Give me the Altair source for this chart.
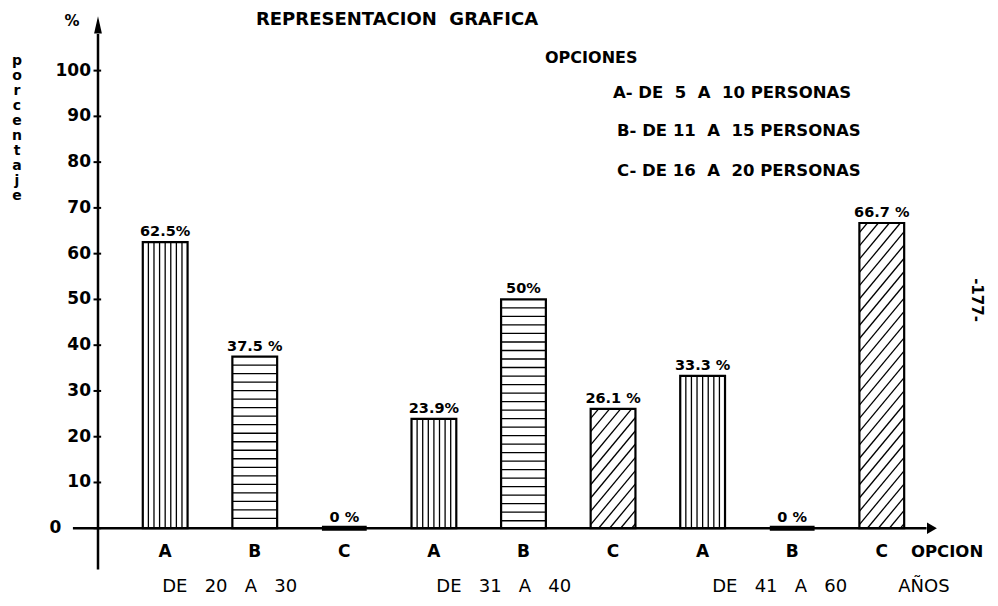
import altair as alt
import pandas as pd

NB = "\u00a0"

# ---------------- data ----------------
grupos = ["DE   20   A   30", "DE   31   A   40", "DE   41   A   60"]
opciones = ["A", "B", "C"]
porcentajes = [62.5, 37.5, 0.0, 23.9, 50.0, 26.1, 33.3, 0.0, 66.7]
etiquetas = ["62.5%", "37.5 %", "0 %", "23.9%", "50%", "26.1 %", "33.3 %", "0 %", "66.7 %"]
leyenda = ["A- DE  5  A  10 PERSONAS", "B- DE 11  A  15 PERSONAS", "C- DE 16  A  20 PERSONAS"]
y_ticks = list(range(0, 101, 10))
grupo_pos = [0.72, 3.78, 6.86]   # centre of each age-group caption (category units)
eje_y_letras = list("porcentaje")


def nb(s):
    return s.replace(" ", NB)


# ---------------- geometry constants ----------------
MEDIO = 0.25        # half bar width (category units)
PASO_H = 1.86       # spacing of horizontal hatch (percent units)
SUBIDA = 11.8       # rise of a diagonal hatch across a bar (percent units)
PASO_D = 2.9        # spacing of diagonal hatch (percent units)
FONT = "DejaVu Sans"
X0 = -0.75          # position of the vertical axis (category units)
X_START = -1.03     # left end of the horizontal axis line

xs = alt.Scale(domain=[X0, 8.65], nice=False, zero=False)
ys = alt.Scale(domain=[-10, 108], nice=False, zero=False)

rows = []
for i, (v, lab) in enumerate(zip(porcentajes, etiquetas)):
    rows.append(dict(i=i, opcion=opciones[i % 3], valor=v, etiqueta=lab,
                     izq=i - MEDIO, der=i + MEDIO, base=0.0))
bars = pd.DataFrame(rows)

# hatch segments derived from the bars
h = []
for r in rows:
    v, l, d = r["valor"], r["izq"], r["der"]
    w = d - l
    if v <= 0:
        continue
    if r["opcion"] == "A":
        for k in range(1, 8):
            xk = l + k * w / 8
            h.append((xk, xk, 0.0, v))
    elif r["opcion"] == "B":
        lvl = v - PASO_H
        while lvl > 0.4:
            h.append((l, d, lvl, lvl))
            lvl -= PASO_H
    else:
        y0 = -SUBIDA + 1.0
        while y0 < v:
            t0 = max(0.0, (0 - y0) / SUBIDA)
            t1 = min(1.0, (v - y0) / SUBIDA)
            if t1 > t0:
                h.append((l + t0 * w, l + t1 * w, y0 + SUBIDA * t0, y0 + SUBIDA * t1))
            y0 += PASO_D
hatch = pd.DataFrame(h, columns=["x", "x2", "y", "y2"])

cats = pd.DataFrame({"i": list(range(9)), "opcion": [opciones[i % 3] for i in range(9)],
                     "yy": [-5.2] * 9})
gr = pd.DataFrame({"x": grupo_pos, "t": [nb(g) for g in grupos], "yy": [-12.9] * 3})
anios = pd.DataFrame({"x": [8.47], "t": ["AÑOS"], "yy": [-12.9]})
ticks = pd.DataFrame({"v": y_ticks, "t": [str(v) for v in y_ticks],
                      "a": [X0 - 0.05] * len(y_ticks), "b": [X0 + 0.035] * len(y_ticks),
                      # the "0" label sits left of where the horizontal axis starts
                      "x": [X_START - 0.05 if v == 0 else X0 for v in y_ticks]})

axes_lines = pd.DataFrame({"x": [X0, X_START], "x2": [X0, 8.5],
                           "y": [-9.0, 0.0], "y2": [108.0, 0.0]})
arrow_up = pd.DataFrame({"x": [X0], "y": [110.0]})
arrow_right = pd.DataFrame({"x": [8.56], "y": [0.0]})
letras = pd.DataFrame({"t": eje_y_letras,
                       "py": [27 + 15 * k for k in range(len(eje_y_letras))]})


def X(f):
    return alt.X(f, scale=xs, axis=None)


def Y(f):
    return alt.Y(f, scale=ys, axis=None)


base_fill = alt.Chart(bars).mark_bar(fill="white").encode(
    x=X("izq:Q"), x2="der:Q", y=Y("valor:Q"), y2="base:Q")

hatch_layer = alt.Chart(hatch).mark_rule(color="black", strokeWidth=1.3).encode(
    x=X("x:Q"), x2="x2:Q", y=Y("y:Q"), y2="y2:Q")

outline = alt.Chart(bars).transform_filter("datum.valor > 0").mark_bar(
    fillOpacity=0, stroke="black", strokeWidth=2.2).encode(
    x=X("izq:Q"), x2="der:Q", y=Y("valor:Q"), y2="base:Q")

zero_bars = alt.Chart(bars).transform_filter("datum.valor == 0").mark_rule(
    color="black", strokeWidth=5).encode(
    x=X("izq:Q"), x2="der:Q", y=Y("valor:Q"))

value_labels = alt.Chart(bars).mark_text(
    font=FONT, fontSize=14.5, fontWeight="bold", baseline="bottom", dy=-3, color="black").encode(
    x=X("i:Q"), y=Y("valor:Q"), text="etiqueta:N")

axis_rules = alt.Chart(axes_lines).mark_rule(color="black", strokeWidth=2.5).encode(
    x=X("x:Q"), x2="x2:Q", y=Y("y:Q"), y2="y2:Q")

tick_marks = alt.Chart(ticks).mark_rule(color="black", strokeWidth=2).encode(
    x=X("a:Q"), x2="b:Q", y=Y("v:Q"))

tick_labels = alt.Chart(ticks).mark_text(
    font=FONT, fontSize=17, fontWeight="bold", align="right", baseline="middle",
    dx=-7, color="black").encode(x=X("x:Q"), y=Y("v:Q"), text="t:N")

up = alt.Chart(arrow_up).mark_point(shape="M0,-1L0.45,1L-0.45,1Z", size=300,
                                     filled=True, color="black", opacity=1,
                                     strokeWidth=0).encode(
    x=X("x:Q"), y=Y("y:Q"))
right = alt.Chart(arrow_right).mark_point(shape="triangle-right", size=130,
                                           filled=True, color="black", opacity=1).encode(
    x=X("x:Q"), y=Y("y:Q"))

cat_labels = alt.Chart(cats).mark_text(
    font=FONT, fontSize=17, fontWeight="bold", color="black").encode(
    x=X("i:Q"), y=Y("yy:Q"), text="opcion:N")

grp_labels = alt.Chart(gr).mark_text(
    font=FONT, fontSize=18, color="black").encode(
    x=X("x:Q"), y=Y("yy:Q"), text="t:N")

anios_label = alt.Chart(anios).mark_text(
    font=FONT, fontSize=18, color="black").encode(
    x=X("x:Q"), y=Y("yy:Q"), text="t:N")

porc = alt.Chart(letras).mark_text(
    font=FONT, fontSize=14, fontWeight="bold", baseline="middle", align="center",
    color="black").encode(
    x=alt.value(-81), y=alt.Y("py:Q", scale=None), text="t:N")


def note(text, x, y, size=17, align="center", baseline="middle", angle=0, weight="bold"):
    kw = dict(font=FONT, fontSize=size, fontWeight=weight, align=align,
              baseline=baseline, color="black", angle=angle)
    return alt.Chart(pd.DataFrame({"t": [nb(text)]})).mark_text(**kw).encode(
        x=alt.value(x), y=alt.value(y), text="t:N")


notes = [
    note("REPRESENTACION  GRAFICA", 299, -9, size=18, baseline="alphabetic"),
    note("%", -26, -13, size=15),
    note("OPCIONES", 447, 24, size=16, align="left"),
    note(leyenda[0], 515, 59, size=16.5, align="left"),
    note(leyenda[1], 519, 97, size=16.5, align="left"),
    note(leyenda[2], 519, 137, size=16.5, align="left"),
    note("OPCION", 813, 518, size=16.5, align="left"),
    note("-177-", 879, 266, size=15, angle=90),
]

chart = alt.layer(
    base_fill, hatch_layer, outline, zero_bars, axis_rules, tick_marks, tick_labels,
    up, right, value_labels, cat_labels, grp_labels, anios_label, porc, *notes
).properties(
    width=842, height=540,
    autosize=alt.AutoSizeParams(type="none"),
    padding={"left": 90, "top": 26, "right": 50, "bottom": 23},
    background="white",
).configure_view(stroke=None)

chart.save("out.html", embed_options={"renderer": "svg", "actions": False})
